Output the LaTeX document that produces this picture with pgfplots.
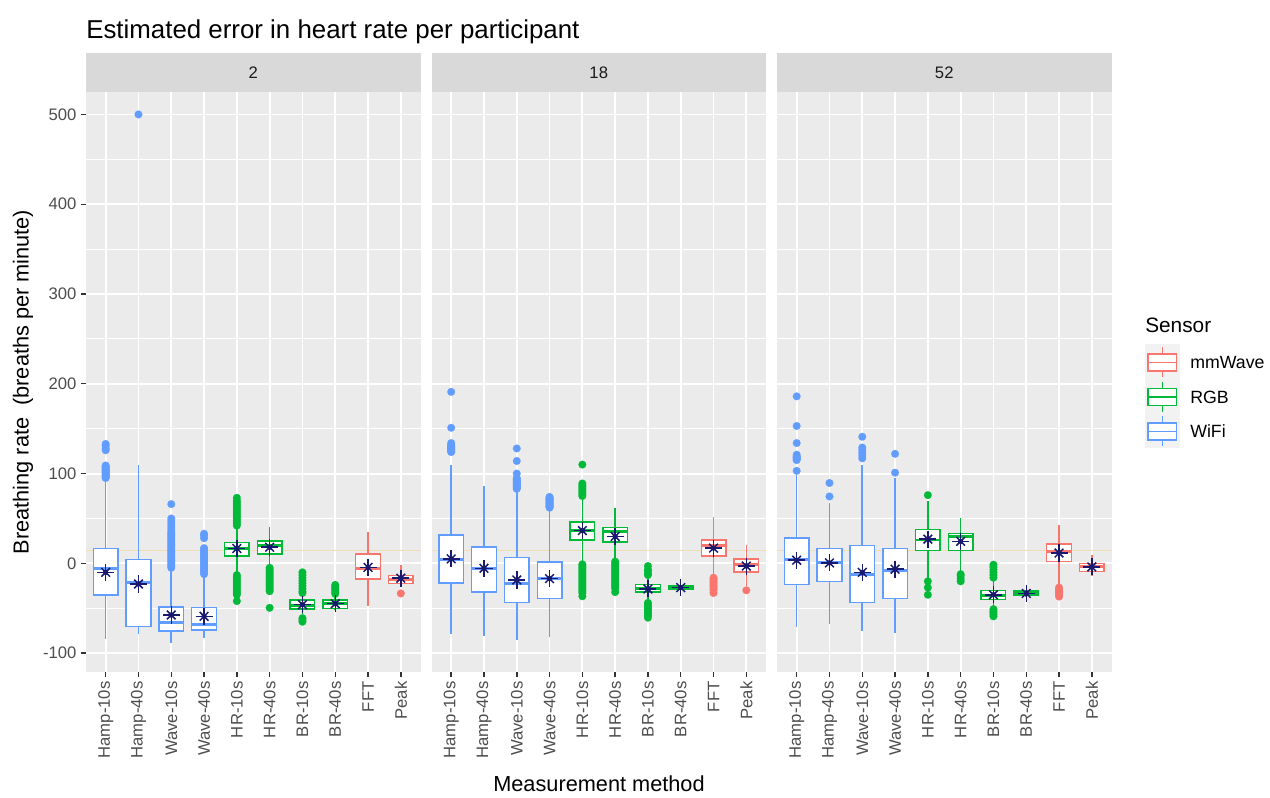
\documentclass[border=0pt]{standalone}
\usepackage{fontspec}
\setmainfont{Liberation Sans}
\usepackage{pgfplots}
\usepackage{pgfplotstable}
\pgfplotsset{compat=1.18}
\usepgfplotslibrary{statistics}
\definecolor{mmw}{HTML}{F8766D}
\definecolor{rgbc}{HTML}{00BA38}
\definecolor{wifi}{HTML}{619CFF}
\definecolor{starc}{HTML}{191970}
\definecolor{panelbg}{HTML}{EBEBEB}
\definecolor{stripbg}{HTML}{D9D9D9}
\definecolor{keybg}{HTML}{F2F2F2}
\definecolor{g30}{HTML}{4D4D4D}
\definecolor{g20}{HTML}{333333}
\definecolor{g10}{HTML}{1A1A1A}
\definecolor{hline}{HTML}{F0DDB4}
\newcommand{\fs}[1]{\fontsize{#1}{#1}\selectfont}

\pgfplotsset{
  panel/.style={
    scale only axis, width=250.875pt, height=435pt,
    xmin=0.4, xmax=10.6, ymin=-121, ymax=525,
    axis background/.style={fill=panelbg},
    axis line style={draw=none},
    xtick={1,...,10}, ytick={-100,0,...,500}, minor ytick={-50,50,...,450},
    grid=both,
    major grid style={white, line width=1.4pt},
    minor grid style={white, line width=0.7pt},
    xtick pos=left, ytick pos=left,
    tick align=outside, major tick length=3.6pt, minor tick length=0pt,
    tick style={g20, line width=1pt},
    xtick style={draw=none},
    xticklabels={Hamp-10s,Hamp-40s,Wave-10s,Wave-40s,HR-10s,HR-40s,BR-10s,BR-40s,FFT,Peak},
    x tick label style={rotate=90, anchor=east, font=\fs{12.5}, text=g30},
    y tick label style={font=\fs{12.5}, text=g30},
    yticklabels={{-100},0,100,200,300,400,500},
  },
  boxstyle/.style={draw=#1, fill=white, line width=1.1pt, solid,
    mark=*, mark size=2.9pt, mark options={fill=#1, draw=#1, line width=0.1pt},
    boxplot/draw direction=y,
    boxplot/box extend=0.75, boxplot/whisker extend=0,
    boxplot/every whisker/.style={line width=1.2pt},
    boxplot/every box/.style={line width=1.1pt},
    boxplot/every median/.style={line width=2.2pt}},
}
% color, pos, lw, lq, med, uq, uw, outliers
\newcommand{\bp}[8]{\addplot[boxstyle=#1, boxplot prepared={draw position=#2, lower whisker=#3, lower quartile=#4, median=#5, upper quartile=#6, upper whisker=#7}] table[row sep=\\, y index=0] {d\\ #8};}
\newcommand{\bpn}[7]{\addplot[boxstyle=#1, boxplot prepared={draw position=#2, lower whisker=#3, lower quartile=#4, median=#5, upper quartile=#6, upper whisker=#7}] coordinates {};}
\newcommand{\means}[1]{%
  \addplot[only marks, mark=+, mark size=6.4pt, mark options={starc, line width=1.1pt}] table {#1};
  \addplot[only marks, mark=x, mark size=4.6pt, mark options={starc, line width=1.1pt}] table {#1};
  \addplot[only marks, mark=*, mark size=1.8pt, mark options={starc}] table {#1};}
\newcommand{\refline}{\addplot[hline, line width=1pt] coordinates {(0.4,14.5) (10.6,14.5)};}

\pgfplotstableread{
x y
1 -10
2 -23
3 -57.5
4 -59
5 16.5
6 18
7 -46
8 -45
9 -4.5
10 -16.5
}\meanA
\pgfplotstableread{
x y
1 5
2 -5.5
3 -18.5
4 -17
5 36.5
6 30
7 -28.5
8 -27
9 17
10 -3
}\meanB
\pgfplotstableread{
x y
1 3.5
2 0.5
3 -10
4 -6.5
5 27
6 24.5
7 -35
8 -33.5
9 11.5
10 -4
}\meanC

\begin{document}
\begin{tikzpicture}
\useasboundingbox (0,0) rectangle (952.5pt,598.5pt);

% ---------- panel 2 (participant 2)
\begin{axis}[panel, at={(64.5pt,94.5pt)}, anchor=south west]
\refline
\bp{wifi}{1}{-84}{-35.5}{-6}{16.5}{93}{95\\96\\97\\98\\99\\100\\101\\102\\103\\104\\105\\106\\107\\108\\109\\126\\128\\131\\133\\}
\bp{wifi}{2}{-79}{-70.5}{-21}{4.5}{110}{500\\}
\bp{wifi}{3}{-88.5}{-75.5}{-66}{-48.5}{-7}{-5\\-3\\-1\\1\\3\\5\\7\\9\\11\\13\\15\\17\\19\\21\\23\\25\\27\\29\\31\\33\\35\\38\\41\\44\\47\\50\\66\\}
\bp{wifi}{4}{-83}{-74}{-68}{-49}{-13}{-12\\-10\\-8\\-6\\-4\\-2\\0\\2\\4\\6\\8\\10\\12\\14\\16\\17\\28\\31\\33\\}
\bp{rgbc}{5}{-11}{8}{17}{23}{41}{42\\44\\46\\48\\50\\52\\54\\56\\58\\60\\62\\64\\66\\68\\70\\73\\-13\\-15\\-17\\-19\\-21\\-23\\-25\\-27\\-29\\-31\\-33\\-35\\-42\\}
\bp{rgbc}{6}{-3}{10.5}{20}{25}{40}{-5\\-7\\-9\\-11\\-13\\-15\\-17\\-19\\-21\\-23\\-25\\-27\\-29\\-31\\-49.5\\}
\bp{rgbc}{7}{-56}{-51}{-47}{-41}{-27}{-10\\-13\\-16\\-19\\-22\\-25\\-28\\-31\\-33\\-61\\-63\\-65\\}
\bp{rgbc}{8}{-51.5}{-50}{-45}{-41}{-36}{-24\\-26\\-28\\-30\\-32\\-34\\}
\bpn{mmw}{9}{-48}{-17.5}{-6}{10.5}{35}
\bp{mmw}{10}{-23}{-22.5}{-17.5}{-13.5}{-1.5}{-33.5\\}
\means{\meanA}
\end{axis}

% ---------- panel 18
\begin{axis}[panel, at={(323.625pt,94.5pt)}, anchor=south west, yticklabels={}, ytick style={draw=none}]
\refline
\bp{wifi}{1}{-79}{-22}{4}{31.5}{109.5}{124\\125\\126\\127\\128\\129\\130\\131\\132\\134\\151\\191\\}
\bpn{wifi}{2}{-81}{-32}{-5.5}{18}{86}
\bp{wifi}{3}{-85.5}{-43.5}{-22}{6.5}{82}{83\\84\\85\\86\\87\\88\\89\\90\\91\\92\\93\\94\\95\\100\\114\\128\\}
\bp{wifi}{4}{-82}{-39}{-17}{1.5}{61}{62\\63\\64\\65\\66\\67\\68\\69\\70\\71\\72\\73\\74\\}
\bp{rgbc}{5}{0.5}{26}{36.5}{46}{74}{75\\77\\79\\81\\83\\85\\87\\89\\110\\-1\\-3\\-5\\-7\\-9\\-11\\-13\\-15\\-17\\-19\\-21\\-23\\-25\\-27\\-29\\-31\\-33\\-36.7\\}
\bp{rgbc}{6}{4}{24}{35}{40}{61.5}{2\\0\\-2\\-4\\-6\\-8\\-10\\-12\\-14\\-16\\-18\\-20\\-22\\-24\\-26\\-28\\-32\\}
\bp{rgbc}{7}{-40}{-32}{-28.5}{-23.5}{-14.5}{-3\\-7\\-9\\-12\\-13\\-44\\-46\\-48\\-50\\-52\\-54\\-56\\-58\\-60.5\\}
\bpn{rgbc}{8}{-30}{-29}{-27}{-25}{-24}
\bp{mmw}{9}{-14.5}{8}{20}{26}{52}{-16\\-18\\-20\\-22\\-24\\-26\\-28\\-30\\-33\\}
\bp{mmw}{10}{-25.5}{-9.5}{-1.5}{5}{20}{-30\\}
\means{\meanB}
\end{axis}

% ---------- panel 52
\begin{axis}[panel, at={(582.75pt,94.5pt)}, anchor=south west, yticklabels={}, ytick style={draw=none}]
\refline
\bp{wifi}{1}{-70.5}{-23.5}{4}{28}{98.5}{103\\115\\116\\117\\118\\119\\121\\134\\153\\186\\}
\bp{wifi}{2}{-67.5}{-20}{0.5}{16.5}{67.5}{74.5\\89.5\\}
\bp{wifi}{3}{-75.5}{-43.5}{-12.5}{20}{110}{117\\120\\123\\126\\129\\141\\}
\bp{wifi}{4}{-77.5}{-39}{-8}{16.5}{95}{101\\122\\}
\bp{rgbc}{5}{-18}{14.5}{26}{38}{69}{76\\-20\\-27\\-35\\}
\bp{rgbc}{6}{-10.5}{14.5}{29.5}{33}{50.5}{-12\\-14\\-17\\-20\\}
\bp{rgbc}{7}{-47.5}{-40.5}{-36}{-30}{-18}{-1.5\\-4\\-7\\-10\\-13\\-16\\-51\\-53\\-55\\-57\\-59\\}
\bpn{rgbc}{8}{-37}{-36}{-33.5}{-31}{-30}
\bp{mmw}{9}{-25.5}{2}{13.5}{21.5}{43}{-27\\-29\\-31\\-33\\-35\\-37\\}
\bpn{mmw}{10}{-14.5}{-9}{-4}{0}{9.5}
\means{\meanC}
\end{axis}

\begin{scope}[x=0.75pt, y=-0.75pt, yshift=598.5pt]
% x axis ticks
\foreach \xo in {86,431.5,777}{
  \foreach \k in {1,...,10}{
    \draw[g20, line width=1.1pt] ({\xo+(\k-0.4)*32.794},672) -- ++(0,5);
  }
}
% strips
\fill[stripbg] (86,53) rectangle (420.5,92);
\fill[stripbg] (431.5,53) rectangle (766,92);
\fill[stripbg] (777,53) rectangle (1111.5,92);
\node[font=\fs{12.5}, text=g10] at (253.25,73) {2};
\node[font=\fs{12.5}, text=g10] at (598.75,73) {18};
\node[font=\fs{12.5}, text=g10] at (944.25,73) {52};
% title and axis titles
\node[anchor=base west, font=\fs{19.4}, inner sep=0pt] at (86,39) {Estimated error in heart rate per participant};
\node[anchor=base, font=\fs{16.3}, inner sep=0pt] at (599,792) {Measurement method};
\node[rotate=90, font=\fs{16.3}, inner sep=0pt] at (23,382) {Breathing rate\ \ (breaths per minute)};
% legend
\node[anchor=base west, font=\fs{15.6}, inner sep=0pt] at (1145,333) {Sensor};
\fill[keybg] (1145,344.5) rectangle (1179.5,448);
\foreach \c/\cy/\lab in {mmw/362.5/mmWave, rgbc/397/RGB, wifi/431.5/WiFi}{
  \draw[\c, line width=1.1pt] (1162.25,\cy-15) -- (1162.25,\cy+15);
  \filldraw[draw=\c, fill=white, line width=1.1pt] (1148,\cy-8.5) rectangle (1176.5,\cy+8.5);
  \draw[\c, line width=1.1pt] (1148,\cy) -- (1176.5,\cy);
  \node[anchor=west, font=\fs{13.3}, inner sep=0pt] at (1190,\cy) {\lab};
}
\end{scope}
\end{tikzpicture}
\end{document}
